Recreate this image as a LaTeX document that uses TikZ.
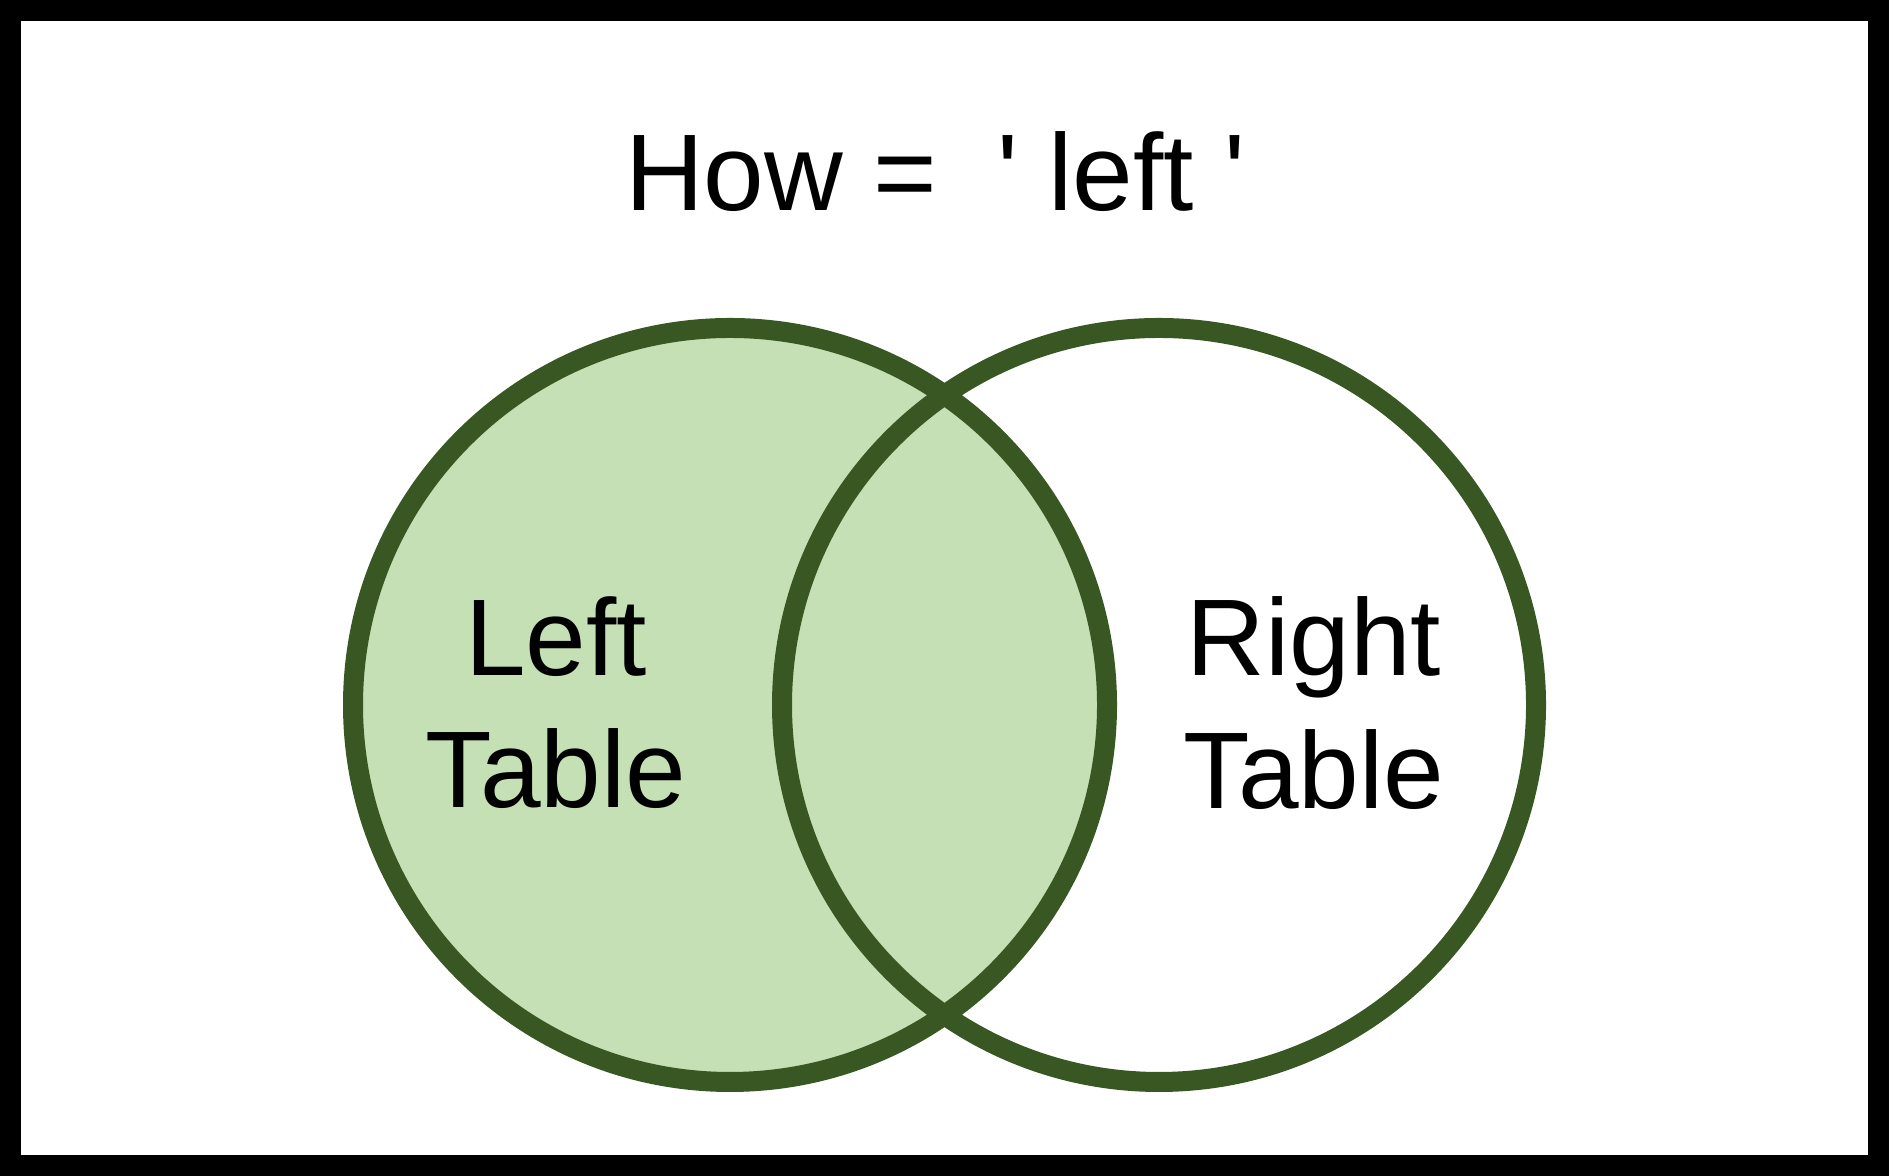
\documentclass[tikz,border=0pt]{standalone}
\usepackage{fontspec}
\setmainfont{Liberation Sans}
\definecolor{vennline}{HTML}{385723}
\definecolor{vennfill}{HTML}{C5E0B4}

\begin{document}
\begin{tikzpicture}[
	venn/.style={draw=vennline, circle, line width=0.2cm, minimum size=7.54cm, inner sep=0pt},
	label/.style={align=center, font=\fontsize{31}{37.6}\selectfont}]
	
	%frame
	\useasboundingbox (0,0) rectangle (18.89,11.76);
	\draw[line width=0.21cm] (0.105,0.105) rectangle (18.785,11.655);
	
	%title
	\node[label, anchor=base] (how) at (9.35,9.65){How =\ \ \textquotesingle\ left \textquotesingle};
	
	%circles
	\node[venn, fill=vennfill] (lefttab) at (7.30,4.71){};
	\node[venn] (righttab) at (11.59,4.71){};
	
	%table names
	\node[label] (leftname) at (5.56,4.73){Left\\Table};
	\node[label] (rightname) at (13.14,4.73){Right\\Table};
	
\end{tikzpicture}
\end{document}
